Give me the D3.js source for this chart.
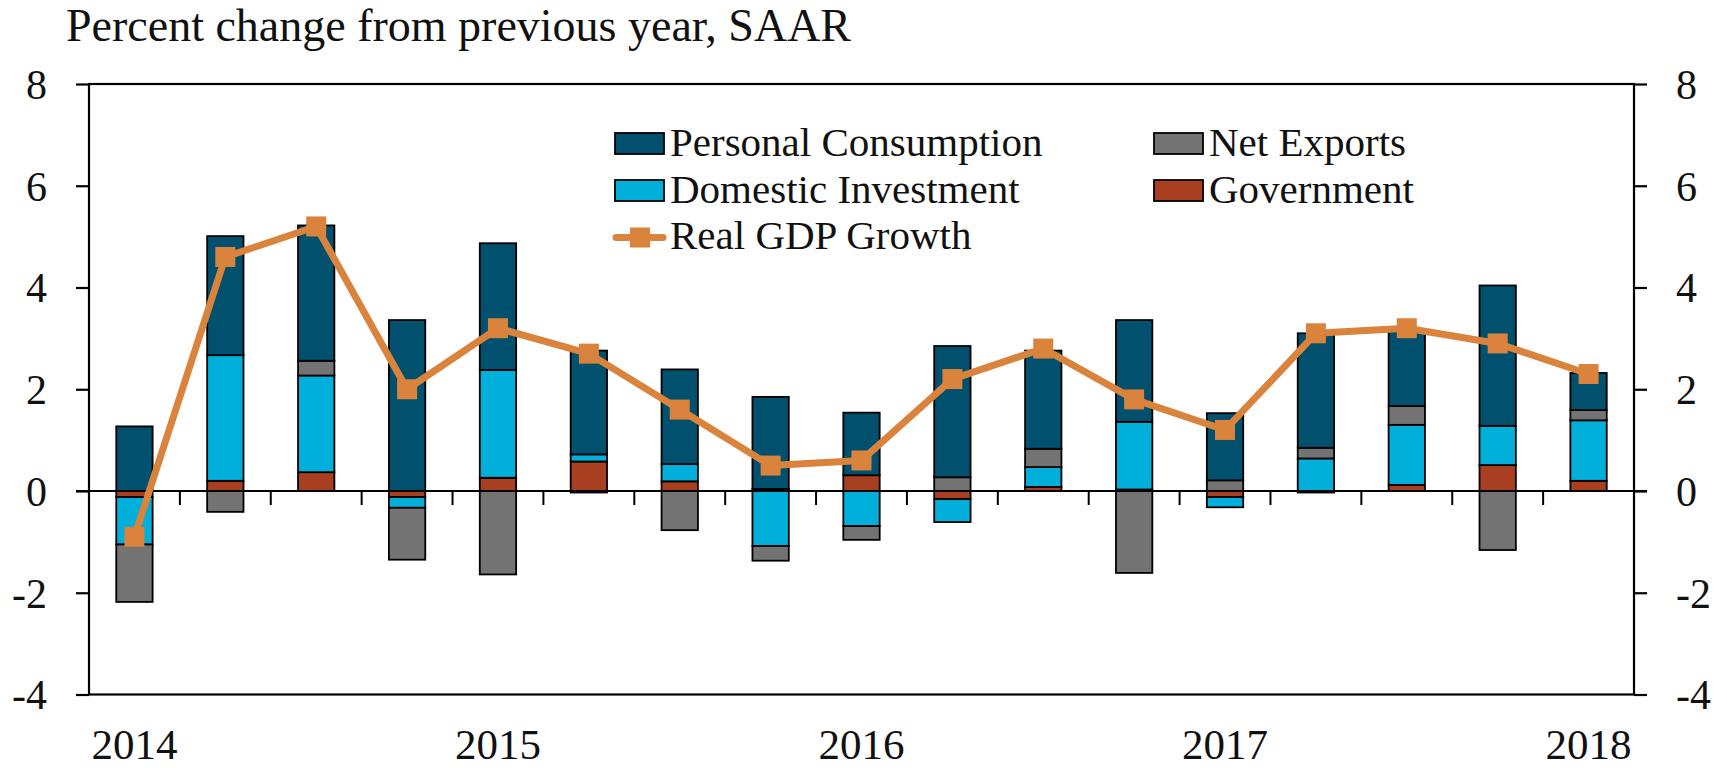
<!DOCTYPE html>
<html>
<head>
<meta charset="utf-8">
<script src="https://cdn.jsdelivr.net/npm/d3@7"></script>
<style>
  body { margin: 0; background: #fff; }
  svg { display: block; font-family: 'Liberation Serif', 'Times New Roman', serif; }
</style>
</head>
<body>
<svg id="chart" width="1727" height="768"></svg>
<script>
// quarterly contributions to real GDP growth, 2014Q1 - 2018Q1
const quarters = ['2014Q1', '2014Q2', '2014Q3', '2014Q4', '2015Q1', '2015Q2', '2015Q3', '2015Q4',
    '2016Q1', '2016Q2', '2016Q3', '2016Q4', '2017Q1', '2017Q2', '2017Q3', '2017Q4', '2018Q1']
const government = [-0.12, 0.20, 0.37, -0.12, 0.26, 0.58, 0.19, 0.04, 0.31, -0.16, 0.08, 0.03, -0.12, -0.03, 0.12, 0.51, 0.20]
const investment = [-0.93, 2.47, 1.90, -0.21, 2.12, 0.14, 0.34, -1.08, -0.69, -0.45, 0.39, 1.33, -0.20, 0.64, 1.18, 0.77, 1.19]
const netExports = [-1.13, -0.41, 0.29, -1.02, -1.64, -0.03, -0.77, -0.29, -0.27, 0.27, 0.36, -1.61, 0.21, 0.21, 0.37, -1.16, 0.20]
const consumption = [1.27, 2.34, 2.66, 3.36, 2.49, 2.04, 1.86, 1.81, 1.23, 2.58, 1.93, 2.00, 1.32, 2.25, 1.50, 2.76, 0.73]
const gdpGrowth = [-0.9, 4.6, 5.2, 2.0, 3.2, 2.7, 1.6, 0.5, 0.6, 2.2, 2.8, 1.8, 1.2, 3.1, 3.2, 2.9, 2.3]

const yTicks = [-4, -2, 0, 2, 4, 6, 8]
const yearTicks = ['2014Q1', '2015Q1', '2016Q1', '2017Q1', '2018Q1']

const seriesKeys = ['gov', 'di', 'nx', 'pc']
const seriesNames = {
    pc: 'Personal Consumption',
    di: 'Domestic Investment',
    nx: 'Net Exports',
    gov: 'Government'
}
const colors = {
    pc: '#00506e',
    di: '#00b0da',
    nx: '#737373',
    gov: '#a83f20'
}
const lineColor = '#d9833c'

const rows = quarters.map((q, i) => ({
    q: q,
    gov: government[i],
    di: investment[i],
    nx: netExports[i],
    pc: consumption[i],
    gdp: gdpGrowth[i]
}))

const svg = d3.select('#chart')
const plot = { left: 89, right: 1634, top: 84, bottom: 694.5 },
    tickLen = 13,
    fontFamily = "'Liberation Serif', 'Times New Roman', serif"

const x = d3.scaleBand()
    .domain(quarters)
    .range([plot.left, plot.right])
    .paddingInner(0.6)
    .paddingOuter(0.3)
const y = d3.scaleLinear()
    .domain([-4, 8])
    .range([plot.bottom, plot.top])
const bw = x.bandwidth()

// title
svg.append('text')
    .attr('x', 66)
    .attr('y', 41)
    .attr('font-size', 46)
    .attr('fill', '#111')
    .text('Percent change from previous year, SAAR')

// axes (plain hyphen for negatives, like the original)
const yLeft = d3.axisLeft(y).tickValues(yTicks).tickSize(tickLen).tickPadding(29).tickFormat(d => String(d))
const yRight = d3.axisRight(y).tickValues(yTicks).tickSize(tickLen).tickPadding(29).tickFormat(d => String(d))

const gl = svg.append('g').attr('transform', `translate(${plot.left},0)`).call(yLeft)
const gr = svg.append('g').attr('transform', `translate(${plot.right},0)`).call(yRight)
;[gl, gr].forEach(g => {
    g.select('.domain').remove()
    g.selectAll('line').attr('stroke', '#000').attr('stroke-width', 2.2)
    g.selectAll('text')
        .attr('font-size', 42)
        .attr('font-family', fontFamily)
        .attr('fill', '#111')
        .attr('dy', '0.34em')
})

const xAxis = d3.axisBottom(x)
    .tickValues(yearTicks)
    .tickFormat(q => q.slice(0, 4))
    .tickSize(0)
    .tickPadding(0)
const gx = svg.append('g').attr('transform', `translate(0,${plot.bottom})`).call(xAxis)
gx.select('.domain').remove()
gx.selectAll('text')
    .attr('font-size', 43)
    .attr('font-family', fontFamily)
    .attr('fill', '#111')
    .attr('dy', 0)
    .attr('y', 64)

// frame
svg.append('rect')
    .attr('x', plot.left)
    .attr('y', plot.top)
    .attr('width', plot.right - plot.left)
    .attr('height', plot.bottom - plot.top)
    .attr('fill', 'none')
    .attr('stroke', '#000')
    .attr('stroke-width', 2.2)

// bars
const stacked = d3.stack()
    .keys(seriesKeys)
    .offset(d3.stackOffsetDiverging)(rows)

svg.append('g')
    .selectAll('g')
    .data(stacked)
    .join('g')
    .attr('fill', d => colors[d.key])
    .selectAll('rect')
    .data(d => d)
    .join('rect')
    .attr('x', d => x(d.data.q))
    .attr('width', bw)
    .attr('y', d => y(Math.max(d[0], d[1])))
    .attr('height', d => Math.abs(y(d[0]) - y(d[1])))
    .attr('stroke', '#000')
    .attr('stroke-width', 1.8)

// zero line and quarter separators
svg.append('line')
    .attr('x1', plot.left - tickLen)
    .attr('x2', plot.right + tickLen)
    .attr('y1', y(0))
    .attr('y2', y(0))
    .attr('stroke', '#000')
    .attr('stroke-width', 2.2)

svg.append('g')
    .selectAll('line')
    .data(quarters.slice(1))
    .join('line')
    .attr('x1', q => x(q) - x.step() * x.paddingInner() / 2)
    .attr('x2', q => x(q) - x.step() * x.paddingInner() / 2)
    .attr('y1', y(0))
    .attr('y2', y(0) + 14)
    .attr('stroke', '#000')
    .attr('stroke-width', 2)

// gdp line
const line = d3.line()
    .x(d => x(d.q) + bw / 2)
    .y(d => y(d.gdp))

svg.append('path')
    .datum(rows)
    .attr('d', line)
    .attr('fill', 'none')
    .attr('stroke', lineColor)
    .attr('stroke-width', 7)
    .attr('stroke-linejoin', 'round')

const ms = 20
svg.append('g')
    .selectAll('rect')
    .data(rows)
    .join('rect')
    .attr('x', d => x(d.q) + bw / 2 - ms / 2)
    .attr('y', d => y(d.gdp) - ms / 2)
    .attr('width', ms)
    .attr('height', ms)
    .attr('fill', lineColor)

// legend
const legendItems = [
    { key: 'pc', x: 615, y: 133 },
    { key: 'nx', x: 1154, y: 133 },
    { key: 'di', x: 615, y: 180 },
    { key: 'gov', x: 1154, y: 180 }
]
const legend = svg.append('g')
legendItems.forEach(it => {
    legend.append('rect')
        .attr('x', it.x)
        .attr('y', it.y)
        .attr('width', 49)
        .attr('height', 21)
        .attr('fill', colors[it.key])
        .attr('stroke', '#000')
        .attr('stroke-width', 1.8)
    legend.append('text')
        .attr('x', it.x + 55)
        .attr('y', it.y + 23)
        .attr('font-size', 41)
        .attr('fill', '#111')
        .text(seriesNames[it.key])
})
legend.append('line')
    .attr('x1', 616)
    .attr('x2', 663)
    .attr('y1', 237.5)
    .attr('y2', 237.5)
    .attr('stroke', lineColor)
    .attr('stroke-width', 7)
    .attr('stroke-linecap', 'round')
legend.append('rect')
    .attr('x', 630)
    .attr('y', 227.5)
    .attr('width', ms)
    .attr('height', ms)
    .attr('fill', lineColor)
legend.append('text')
    .attr('x', 670)
    .attr('y', 249)
    .attr('font-size', 41)
    .attr('fill', '#111')
    .text('Real GDP Growth')
</script>
</body>
</html>
